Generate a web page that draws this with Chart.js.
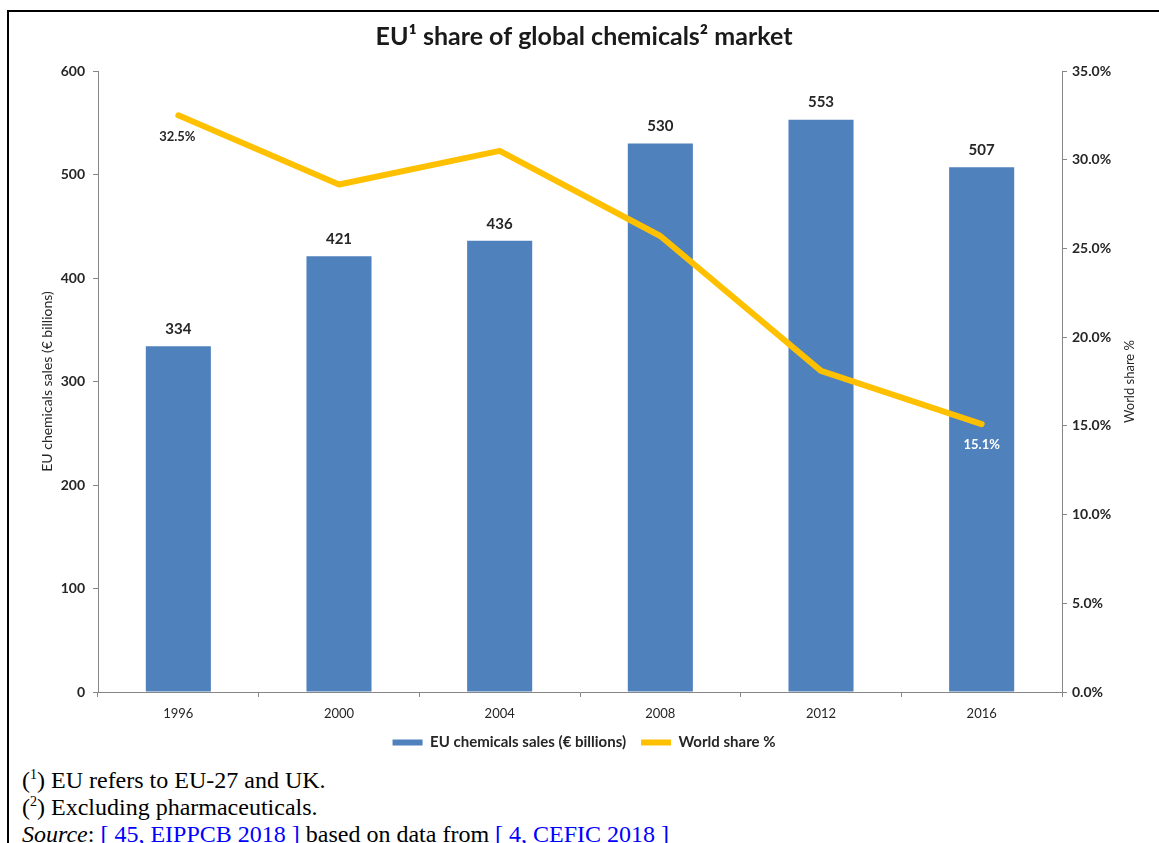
<!DOCTYPE html>
<html lang="en">
<head>
    <meta charset="UTF-8">
    <title>EU share of global chemicals market</title>
    <script src="https://cdn.jsdelivr.net/npm/chart.js"></script>
    <style type="text/css">
    body {
    margin: 0;
    padding: 0;
    background: white;
    width: 1159px;
    height: 843px;
    overflow: hidden;
    position: relative;
    }
    #frame {
    position: absolute;
    left: 7px;
    top: 10px;
    width: 1170px;
    height: 850px;
    border-left: 2px solid black;
    border-top: 2px solid black;
    }
    #chartBox {
    position: absolute;
    left: 9px;
    top: 12px;
    width: 1150px;
    height: 752px;
    }
    #notes {
    position: absolute;
    left: 22px;
    top: 767px;
    font-family: "Liberation Serif", "Times New Roman", serif;
    font-size: 24px;
    line-height: 27px;
    color: black;
    white-space: nowrap;
    }
    #notes sup {
    font-size: 14px;
    vertical-align: 9px;
    line-height: 0;
    }
    #notes .ref {
    color: #0000ff;
    }
    </style>
</head>
<body>
    <div id="frame"></div>
    <div id="chartBox">
        <canvas id="chemChart"></canvas>
    </div>
    <div id="notes">
        (<sup>1</sup>) EU refers to EU-27 and UK.<br>
        (<sup>2</sup>) Excluding pharmaceuticals.<br>
        <i>Source</i>: <span class="ref">[ 45, EIPPCB 2018 ]</span> based on data from <span class="ref">[ 4, CEFIC 2018 ]</span>
    </div>

    <script>
    // data
    const years = ['1996', '2000', '2004', '2008', '2012', '2016'];
    const salesValues = [334, 421, 436, 530, 553, 507];
    const sharePercent = [32.5, 28.6, 30.5, 25.7, 18.1, 15.1];
    const shareLabels = ['32.5%', '', '', '', '', '15.1%'];

    const FONT = 'Lato, "Open Sans", sans-serif';
    const DARK = '#262626';
    const AXIS = '#868686';

    // value labels on bars and on the end points of the line
    const labelPlugin = {
    id: 'labelPlugin',
    afterDatasetsDraw(chart) {
    const c = chart.ctx;
    c.save();
    c.font = 'bold 15px ' + FONT;
    c.textAlign = 'center';
    c.textBaseline = 'middle';
    c.fillStyle = DARK;
    chart.getDatasetMeta(0).data.forEach((bar, i) => {
    c.fillText(String(salesValues[i]), bar.x, bar.y - 17);
    });
    c.font = 'bold 13px ' + FONT;
    chart.getDatasetMeta(1).data.forEach((pt, i) => {
    if (!shareLabels[i]) return;
    c.fillStyle = i === 0 ? DARK : '#ffffff';
    c.fillText(shareLabels[i], pt.x - (i === 0 ? 1 : 0), pt.y + 21);
    });
    // right axis title reads bottom to top
    const y1 = chart.scales.y1;
    c.font = '13px ' + FONT;
    c.fillStyle = DARK;
    c.translate(y1.right - 29, (y1.top + y1.bottom) / 2);
    c.rotate(-Math.PI / 2);
    c.fillText('World share %', 0, 0);
    c.restore();
    }
    };

    const ctx = document.getElementById('chemChart').getContext('2d');
    const chemChart = new Chart(ctx, {
    type: 'bar',
    data: {
    labels: years,
    datasets: [{
    type: 'bar',
    label: 'EU chemicals sales (€ billions)',
    data: salesValues,
    backgroundColor: '#4F81BD',
    borderWidth: 0,
    categoryPercentage: 1,
    barPercentage: 0.405,
    yAxisID: 'y',
    order: 2
    }, {
    type: 'line',
    label: 'World share %',
    data: sharePercent,
    borderColor: '#FFC000',
    backgroundColor: '#FFC000',
    borderWidth: 6,
    pointRadius: 0,
    tension: 0,
    borderJoinStyle: 'round',
    borderCapStyle: 'round',
    yAxisID: 'y1',
    order: 1
    }]
    },
    options: {
    responsive: true,
    maintainAspectRatio: false,
    animation: false,
    layout: { padding: { left: 0, right: 0, top: 0, bottom: 4 } },
    plugins: {
    tooltip: { enabled: false },
    title: {
    display: true,
    text: 'EU¹ share of global chemicals² market',
    color: '#1a1a1a',
    font: { family: FONT, size: 25, weight: 'bold' },
    padding: { top: 10, bottom: 19 }
    },
    legend: {
    position: 'bottom',
    labels: {
    color: DARK,
    font: { family: FONT, size: 15, weight: 'bold' },
    boxWidth: 30,
    boxHeight: 6,
    padding: 15,
    sort: (a, b) => a.datasetIndex - b.datasetIndex,
    generateLabels(chart) {
    return chart.data.datasets.map((ds, i) => ({
    text: ds.label,
    fillStyle: i === 0 ? '#4F81BD' : '#FFC000',
    strokeStyle: i === 0 ? '#4F81BD' : '#FFC000',
    lineWidth: 0,
    fontColor: DARK,
    datasetIndex: i,
    hidden: false
    }));
    }
    }
    }
    },
    scales: {
    x: {
    grid: { display: true, drawOnChartArea: false, offset: true, color: AXIS, tickLength: 5 },
    border: { color: AXIS, width: 1 },
    ticks: { color: DARK, font: { family: FONT, size: 13 }, padding: 9, maxRotation: 0 },
    afterFit(scale) { scale.height = 28; }
    },
    y: {
    position: 'left',
    min: 0,
    max: 600,
    grid: { display: true, drawOnChartArea: false, color: AXIS, tickLength: 5 },
    border: { color: AXIS, width: 1 },
    ticks: { stepSize: 100, color: DARK, font: { family: FONT, size: 14, weight: 'bold' }, padding: 8 },
    title: {
    display: true,
    text: 'EU chemicals sales (€ billions)',
    color: DARK,
    font: { family: FONT, size: 14 },
    padding: { top: 30, bottom: 0 }
    },
    afterFit(scale) { scale.width = 89; }
    },
    y1: {
    position: 'right',
    min: 0,
    max: 35,
    grid: { display: true, drawOnChartArea: false, color: AXIS, tickLength: 5 },
    border: { color: AXIS, width: 1 },
    ticks: {
    stepSize: 5,
    color: DARK,
    font: { family: FONT, size: 14, weight: 'bold' },
    padding: 5,
    callback: v => v.toFixed(1) + '%'
    },
    afterFit(scale) { scale.width = 97; }
    }
    }
    },
    plugins: [labelPlugin]
    });
    </script>
</body>
</html>
